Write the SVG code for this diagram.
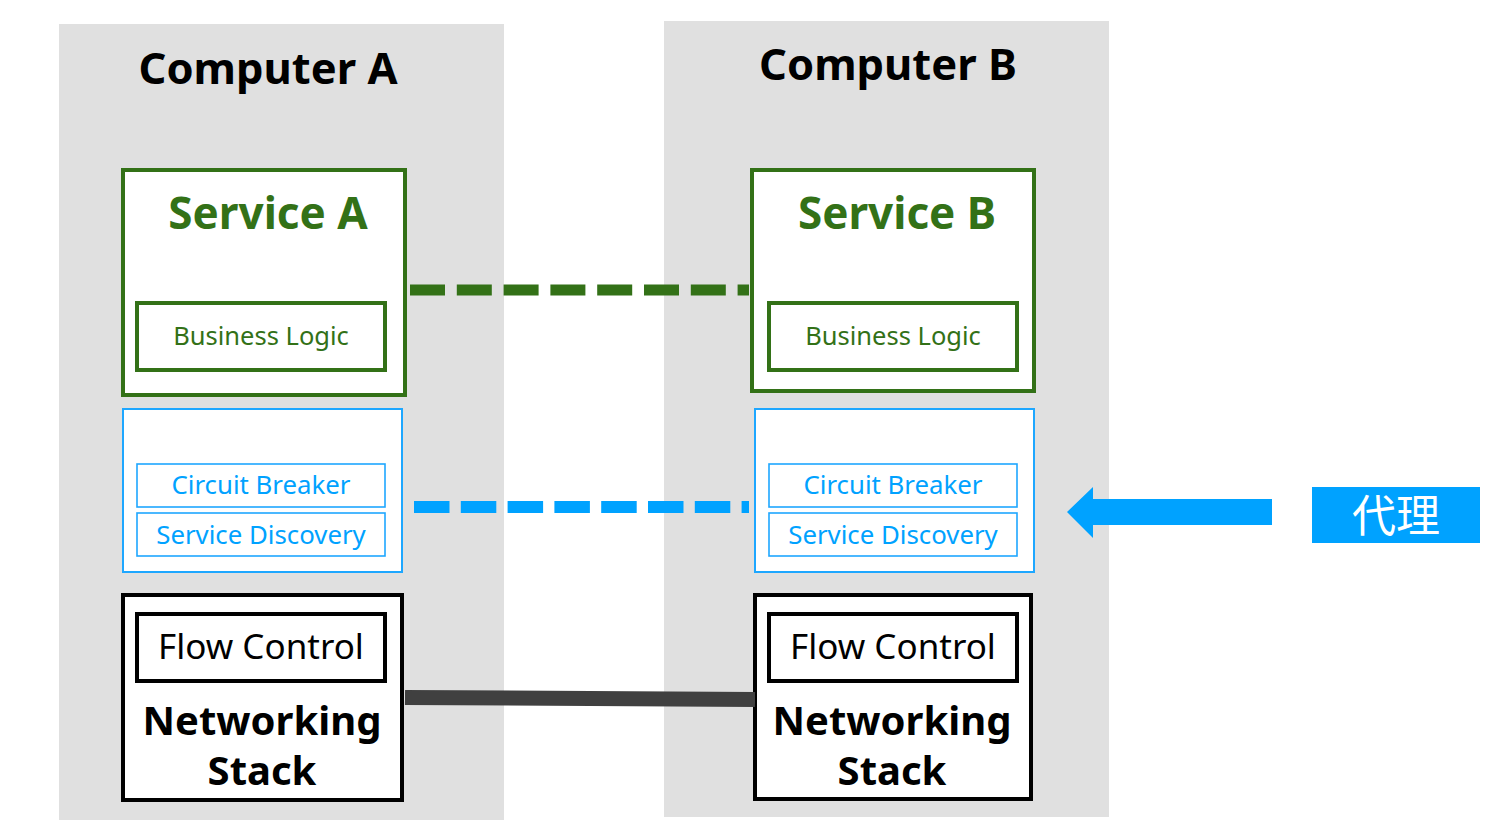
<svg xmlns="http://www.w3.org/2000/svg" width="1510" height="832" viewBox="0 0 1510 832">
  <style>
    .panel { fill: #e0e0e0; }
    .title { font-family: "Noto Sans", "Open Sans", sans-serif; font-weight: 700; font-size: 43.5px; fill: #000; text-anchor: middle; }
    .svc { fill: #fff; stroke: #337117; stroke-width: 4; }
    .svc-title { font-family: "Noto Sans", "Open Sans", sans-serif; font-weight: 700; font-size: 44px; fill: #337117; text-anchor: middle; }
    .svc-inner { fill: #fff; stroke: #337117; stroke-width: 4; }
    .svc-text { font-family: "Noto Sans", "Open Sans", sans-serif; font-size: 25.5px; fill: #337117; text-anchor: middle; }
    .proxy { fill: #fff; stroke: #1ea7ff; stroke-width: 2; }
    .proxy-inner { fill: #fff; stroke: #1ea7ff; stroke-width: 1.6; }
    .proxy-text { font-family: "Noto Sans", "Open Sans", sans-serif; font-size: 25.8px; fill: #00a2ff; text-anchor: middle; }
    .net { fill: #fff; stroke: #000; stroke-width: 4; }
    .net-text { font-family: "Noto Sans", "Open Sans", sans-serif; font-size: 35px; fill: #000; text-anchor: middle; }
    .net-title { font-family: "Noto Sans", "Open Sans", sans-serif; font-weight: 700; font-size: 40px; fill: #000; text-anchor: middle; }
    .label-text { font-family: "Noto Sans CJK SC", sans-serif; font-size: 44px; fill: #fff; text-anchor: middle; }
  </style>

  <!-- host panels -->
  <g id="computer-a">
    <rect class="panel" x="59" y="24" width="445" height="796"/>
    <text class="title" x="268" y="84">Computer A</text>
  </g>
  <g id="computer-b">
    <rect class="panel" x="664" y="21" width="445" height="796"/>
    <text class="title" x="888" y="80">Computer B</text>
  </g>

  <!-- services -->
  <g id="service-a">
    <rect class="svc" x="123" y="170" width="282" height="225"/>
    <text class="svc-title" x="268" y="229">Service A</text>
    <rect class="svc-inner" x="137" y="303" width="248" height="67"/>
    <text class="svc-text" x="261" y="345">Business Logic</text>
  </g>
  <g id="service-b">
    <rect class="svc" x="752" y="170" width="282" height="221"/>
    <text class="svc-title" x="897" y="229">Service B</text>
    <rect class="svc-inner" x="769" y="303" width="248" height="67"/>
    <text class="svc-text" x="893" y="345">Business Logic</text>
  </g>

  <!-- sidecar proxies -->
  <g id="proxy-a">
    <rect class="proxy" x="123" y="409" width="279" height="163"/>
    <rect class="proxy-inner" x="137" y="464" width="248" height="43"/>
    <text class="proxy-text" x="261" y="494">Circuit Breaker</text>
    <rect class="proxy-inner" x="137" y="513" width="248" height="43"/>
    <text class="proxy-text" x="261" y="544">Service Discovery</text>
  </g>
  <g id="proxy-b">
    <rect class="proxy" x="755" y="409" width="279" height="163"/>
    <rect class="proxy-inner" x="769" y="464" width="248" height="43"/>
    <text class="proxy-text" x="893" y="494">Circuit Breaker</text>
    <rect class="proxy-inner" x="769" y="513" width="248" height="43"/>
    <text class="proxy-text" x="893" y="544">Service Discovery</text>
  </g>

  <!-- networking stacks -->
  <g id="net-a">
    <rect class="net" x="123" y="595" width="279" height="205"/>
    <rect class="net" x="137" y="614" width="248" height="67"/>
    <text class="net-text" x="261" y="659">Flow Control</text>
    <text class="net-title" x="262" y="735">Networking</text>
    <text class="net-title" x="262" y="785">Stack</text>
  </g>
  <g id="net-b">
    <rect class="net" x="755" y="595" width="276" height="204"/>
    <rect class="net" x="769" y="614" width="248" height="67"/>
    <text class="net-text" x="893" y="659">Flow Control</text>
    <text class="net-title" x="892" y="735">Networking</text>
    <text class="net-title" x="892" y="785">Stack</text>
  </g>

  <!-- connectors -->
  <g id="connectors">
    <line x1="410" y1="290" x2="749" y2="290" stroke="#337117" stroke-width="11" stroke-dasharray="35 11.8"/>
    <line x1="414" y1="507" x2="749" y2="507" stroke="#00a2ff" stroke-width="12" stroke-dasharray="35.5 11.3"/>
    <line x1="405" y1="697.5" x2="755" y2="699.5" stroke="#404040" stroke-width="15"/>
    <polygon points="1067,512 1093,487 1093,499 1272,499 1272,525 1093,525 1093,538" fill="#00a2ff"/>
  </g>

  <!-- proxy label -->
  <g id="proxy-label">
    <rect x="1312" y="487" width="168" height="56" fill="#00a2ff"/>
    <text class="label-text" x="1396" y="532">代理</text>
  </g>
</svg>
